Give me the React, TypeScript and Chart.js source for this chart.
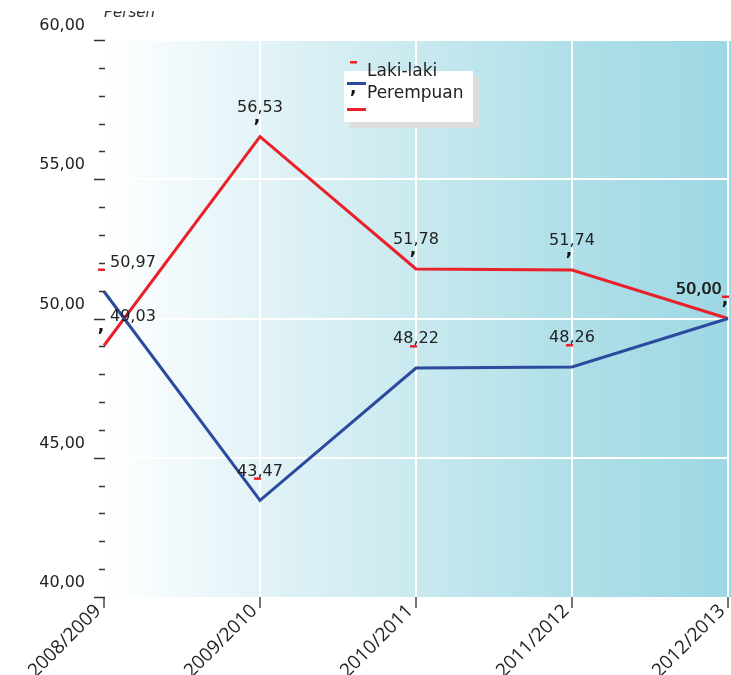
import React, { useEffect, useRef } from "react";
import { Chart, registerables } from "chart.js";

Chart.register(...registerables);

const categories = ["2008/2009", "2009/2010", "2010/2011", "2011/2012", "2012/2013"];
const lakiLaki = [50.97, 43.47, 48.22, 48.26, 50.0];
const perempuan = [49.03, 56.53, 51.78, 51.74, 50.0];
const yMin = 40;
const yMax = 60;
const unitLabel = "Persen";
const legendLabels = ["Laki-laki", "Perempuan"];

const BLUE = "#2c4a9e";
const RED = "#e9212b";
const TEXT = "#222222";

const fmt = (v: number) => v.toFixed(2).replace(".", ",");

const backgroundPlugin = {
  id: "bgGrad",
  beforeDraw(chart: any) {
    const { ctx, chartArea } = chart;
    const x0 = chartArea.left + 2;
    const x1 = chart.width;
    const g = ctx.createLinearGradient(chartArea.left, 0, chartArea.right, 0);
    g.addColorStop(0, "#ffffff");
    g.addColorStop(0.25, "#e2f3f7");
    g.addColorStop(0.5, "#c9e9ef");
    g.addColorStop(0.75, "#afdfe8");
    g.addColorStop(1, "#9dd8e4");
    ctx.save();
    ctx.fillStyle = g;
    ctx.fillRect(x0, chartArea.top + 1, x1 - x0, chartArea.bottom - chartArea.top - 1);
    ctx.restore();
  },
};

const axisMarksPlugin = {
  id: "axisMarks",
  afterDraw(chart: any) {
    const { ctx, chartArea } = chart;
    const ys = chart.scales.y;
    ctx.save();
    ctx.strokeStyle = "#333";
    ctx.lineWidth = 1.5;
    for (let v = yMin; v <= yMax; v++) {
      const y = Math.round(ys.getPixelForValue(v)) + 0.5;
      const major = v % 5 === 0;
      ctx.beginPath();
      ctx.moveTo(chartArea.left + 1, y);
      ctx.lineTo(major ? chartArea.left - 10 : chartArea.left - 5, y);
      ctx.stroke();
    }
    // unit label, clipped at the top
    ctx.beginPath();
    ctx.rect(0, 11, chart.width, 30);
    ctx.clip();
    ctx.fillStyle = "#333";
    ctx.font = "italic 15px 'DejaVu Sans'";
    ctx.textAlign = "left";
    ctx.textBaseline = "alphabetic";
    ctx.fillText(unitLabel, chartArea.left, 17);
    ctx.restore();
  },
};

const dataLabelPlugin = {
  id: "dataLabels",
  afterDatasetsDraw(chart: any) {
    const { ctx } = chart;
    const n = categories.length;
    ctx.save();
    ctx.font = "16px 'DejaVu Sans'";
    ctx.textBaseline = "middle";
    chart.data.datasets.forEach((ds: any, di: number) => {
      const meta = chart.getDatasetMeta(di);
      meta.data.forEach((pt: any, i: number) => {
        const txt = fmt(ds.data[i]);
        const ly = pt.y - 29;
        let lx = pt.x;
        if (i === 0) {
          ctx.textAlign = "left";
          lx = pt.x + 6;
        } else if (i === n - 1) {
          ctx.textAlign = "right";
          lx = pt.x - 6 - di * 0.6;
        } else {
          ctx.textAlign = "center";
        }
        ctx.fillStyle = TEXT;
        ctx.fillText(txt, lx, ly);
        const ax = pt.x - 3;
        if (ds.label === legendLabels[0]) {
          ctx.fillStyle = RED;
          ctx.fillRect(ax - 3, ly + 6, 7, 2.5);
        } else {
          ctx.fillStyle = "#111";
          ctx.save();
          ctx.font = "bold 17px 'DejaVu Sans'";
          ctx.textAlign = "center";
          ctx.fillText(",", ax, ly + 10);
          ctx.restore();
        }
      });
    });
    ctx.restore();
  },
};

const legendPlugin = {
  id: "customLegend",
  afterDraw(chart: any) {
    const { ctx } = chart;
    ctx.save();
    ctx.fillStyle = "#dddddd";
    ctx.fillRect(350, 77, 129, 51);
    ctx.fillStyle = "#ffffff";
    ctx.fillRect(344, 71, 129, 51);
    ctx.fillStyle = TEXT;
    ctx.font = "17px 'DejaVu Sans'";
    ctx.textAlign = "left";
    ctx.textBaseline = "alphabetic";
    ctx.fillText(legendLabels[0], 367, 76);
    ctx.fillText(legendLabels[1], 367, 98);
    ctx.fillStyle = RED;
    ctx.fillRect(350, 61, 7, 2.5);
    ctx.fillStyle = BLUE;
    ctx.fillRect(347, 82, 19, 3);
    ctx.fillStyle = RED;
    ctx.fillRect(347, 108, 19, 3);
    ctx.fillStyle = "#111";
    ctx.font = "bold 17px 'DejaVu Sans'";
    ctx.fillText(",", 350, 93);
    ctx.restore();
  },
};

export default function App() {
  const ref = useRef<HTMLCanvasElement | null>(null);
  useEffect(() => {
    if (!ref.current) return;
    const chart = new Chart(ref.current, {
      type: "line",
      data: {
        labels: categories,
        datasets: [
          {
            label: legendLabels[0],
            data: lakiLaki,
            borderColor: BLUE,
            backgroundColor: BLUE,
            borderWidth: 3,
            pointRadius: 0,
            tension: 0,
          },
          {
            label: legendLabels[1],
            data: perempuan,
            borderColor: RED,
            backgroundColor: RED,
            borderWidth: 3,
            pointRadius: 0,
            tension: 0,
          },
        ],
      },
      options: {
        responsive: false,
        animation: false,
        layout: { padding: { top: 40, right: 3, left: 0, bottom: 0 } },
        plugins: {
          legend: { display: false },
          tooltip: { enabled: false },
        },
        scales: {
          x: {
            type: "category",
            offset: false,
            afterFit: (s: any) => {
              s.height = 78;
              s.paddingLeft = 0;
              s.paddingRight = 0;
            },
            border: { display: false },
            grid: {
              color: "#ffffff",
              lineWidth: 2,
              drawTicks: true,
              tickLength: 11,
              tickColor: "#444",
              tickWidth: 1.5,
            },
            ticks: {
              minRotation: 45,
              maxRotation: 45,
              autoSkip: false,
              padding: -8,
              labelOffset: -6,
              color: TEXT,
              font: { family: "'Open Sans'", size: 19 },
            },
          },
          y: {
            type: "linear",
            min: yMin,
            max: yMax,
            afterFit: (s: any) => {
              s.width = 104;
            },
            border: { display: false },
            grid: {
              drawTicks: false,
              lineWidth: 2,
              color: (c: any) => {
                const v = c.tick ? c.tick.value : 0;
                return v % 5 === 0 && v > yMin ? "#ffffff" : "rgba(0,0,0,0)";
              },
            },
            ticks: {
              stepSize: 1,
              autoSkip: false,
              padding: 19,
              labelOffset: -14,
              color: TEXT,
              font: { family: "'DejaVu Sans'", size: 16 },
              callback: (v: any) => (Number(v) % 5 === 0 ? fmt(Number(v)) : ""),
            },
          },
        },
      },
      plugins: [backgroundPlugin, axisMarksPlugin, dataLabelPlugin, legendPlugin],
    } as any);
    return () => chart.destroy();
  }, []);
  return (
    <div style={{ position: "absolute", left: 0, top: 0, width: 731, height: 675 }}>
      <canvas ref={ref} width={731} height={675} />
    </div>
  );
}
